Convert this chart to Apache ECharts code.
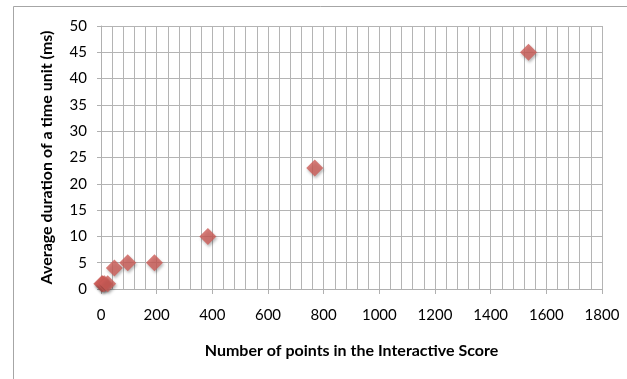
<!DOCTYPE html>
<html><head><meta charset="utf-8">
<script src="https://cdn.jsdelivr.net/npm/echarts@6/dist/echarts.min.js"></script>
<style>html,body{margin:0;padding:0;background:#fff}#c{width:627px;height:379px}</style>
</head><body><div id="c"></div>
<script>
const pointsX = [3, 6, 12, 24, 48, 96, 192, 384, 768, 1536];
const durationY = [1, 1, 1, 1, 4, 5, 5, 10, 23, 45];
const xTitle = 'Number of points in the Interactive Score';
const yTitle = 'Average duration of a time unit (ms)';
const data = pointsX.map((x, i) => [x, durationY[i]]);
const font = 'Lato, "Open Sans", sans-serif';
const chart = echarts.init(document.getElementById('c'));
chart.setOption({
  animation: false,
  graphic: [{type: 'rect', shape: {x: 13.5, y: 6.5, width: 700, height: 500}, style: {fill: 'none', stroke: '#a6a6a6', lineWidth: 1}}],
  grid: {left: 101, right: 25, top: 26, bottom: 90, containLabel: false},
  xAxis: {
    type: 'value', min: 0, max: 1800, interval: 200,
    name: xTitle, nameLocation: 'middle', nameGap: 54,
    nameTextStyle: {fontFamily: font, fontWeight: 'bold', fontSize: 16, color: '#000'},
    axisLine: {show: true, lineStyle: {color: '#b0b0b0', width: 1}},
    axisTick: {show: true, length: 5, lineStyle: {color: '#b0b0b0'}},
    axisLabel: {fontFamily: font, fontSize: 15, color: '#000', margin: 19, formatter: v => String(v)},
    splitLine: {show: true, lineStyle: {color: '#b4b4b4', width: 1}},
    minorTick: {show: false, splitNumber: 5},
    minorSplitLine: {show: true, lineStyle: {color: '#b4b4b4', width: 1}}
  },
  yAxis: {
    type: 'value', min: 0, max: 50, interval: 5,
    name: yTitle, nameLocation: 'middle', nameGap: 46,
    nameTextStyle: {fontFamily: font, fontWeight: 'bold', fontSize: 16, color: '#000'},
    axisLine: {show: true, lineStyle: {color: '#b0b0b0', width: 1}},
    axisTick: {show: true, length: 4, lineStyle: {color: '#b0b0b0'}},
    axisLabel: {fontFamily: font, fontSize: 15, color: '#000', margin: 14},
    splitLine: {show: true, lineStyle: {color: '#b4b4b4', width: 1}}
  },
  series: [{
    type: 'scatter', data: data, symbol: 'diamond', symbolSize: 17,
    itemStyle: {color: '#cd5c57', shadowColor: 'rgba(0,0,0,0.35)', shadowBlur: 3, shadowOffsetX: 1, shadowOffsetY: 2}
  }]
});
</script></body></html>
